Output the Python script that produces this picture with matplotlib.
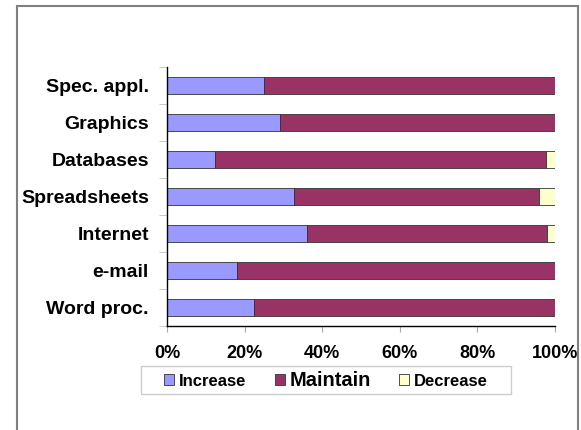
import numpy as np
import matplotlib.pyplot as plt
from matplotlib.patches import Rectangle

plt.rcParams['font.family'] = ['Liberation Sans', 'DejaVu Sans']
plt.rcParams['font.weight'] = 'bold'

# bottom to top, as drawn on the y axis
categories = ['Word proc.', 'e-mail', 'Internet', 'Spreadsheets',
              'Databases', 'Graphics', 'Spec. appl.']
increase = np.array([0.224, 0.18, 0.36, 0.327, 0.123, 0.29, 0.25])
decrease = np.array([0.0, 0.0, 0.02, 0.04, 0.022, 0.0, 0.0])
maintain = 1.0 - increase - decrease

series = [('Increase', increase, '#9999FF'),
          ('Maintain', maintain, '#993366'),
          ('Decrease', decrease, '#FFFFCC')]

W, H = 581, 430
fig = plt.figure(figsize=(W / 100, H / 100), dpi=100)
ax = fig.add_axes([167 / W, 1 - 326 / H, 388 / W, 259 / H])

# grey chart-area border (open at the bottom)
fig.patches.append(Rectangle((17 / W, -0.2), 560.5 / W, 1.2 - 6 / H,
                             transform=fig.transFigure, fill=False,
                             edgecolor='#808080', linewidth=1.5))

y = np.arange(len(categories))
left = np.zeros(len(categories))
handles = []
for name, vals, color in series:
    h = ax.barh(y, vals, left=left, height=0.45, color=color,
                edgecolor='#333333', linewidth=0.6, label=name)
    handles.append(h)
    left += vals

ax.set_xlim(0, 1)
ax.set_ylim(-0.5, len(categories) - 0.5)
ax.set_xticks(np.linspace(0, 1, 6))
ax.set_xticklabels(['0%', '20%', '40%', '60%', '80%', '100%'], fontsize=13,
                   fontweight='bold')
ax.set_yticks(y)
ax.set_yticklabels(categories, fontsize=14, fontweight='bold')
ax.tick_params(axis='y', length=0, pad=13)
ax.tick_params(axis='x', length=4, color='#aaaaaa', pad=10)

# category separators on the y axis
ax.set_yticks(np.arange(-0.5, len(categories)), minor=True)
ax.tick_params(axis='y', which='minor', length=6, color='#c0c0c0')

for s in ['top', 'right']:
    ax.spines[s].set_visible(False)
for s in ['left', 'bottom']:
    ax.spines[s].set_linewidth(1.0)
    ax.spines[s].set_color('black')

# legend box drawn separately so the side padding can be wider
fig.patches.append(Rectangle((141 / W, 1 - 394 / H), 370 / W, 28 / H,
                             transform=fig.transFigure, facecolor='white',
                             edgecolor='#cccccc', linewidth=1.0))
leg = fig.legend(handles=handles, loc='center', ncol=3,
                 bbox_to_anchor=(326 / W, 1 - 380 / H), frameon=False,
                 handlelength=0.6, handleheight=0.6, handletextpad=0.3,
                 columnspacing=1.7, borderpad=0.3, fontsize=12)
leg.get_texts()[1].set_fontsize(14.5)
for t in leg.get_texts():
    t.set_fontweight('bold')

fig.savefig('out.png', dpi=100, facecolor='white')
